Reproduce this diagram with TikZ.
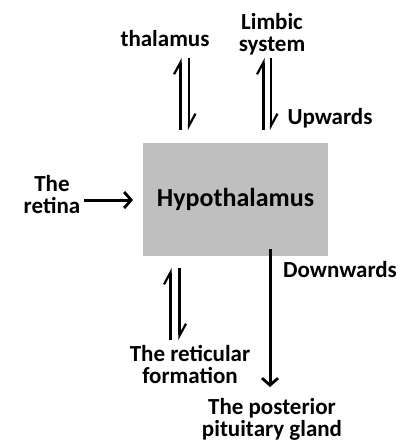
\documentclass[tikz,border=0pt]{standalone}
\usepackage{fontspec}
\setmainfont{Carlito}
\usetikzlibrary{arrows.meta, positioning}

\begin{document}
\begin{tikzpicture}[x=1pt, y=-1pt,
    every node/.style={font=\bfseries\fontsize{23}{22}\selectfont, align=center, inner sep=0pt},
    harp/.style={line width=2.2pt, -{Straight Barb[harpoon, length=12pt, width=13pt]}},
    flow/.style={line width=3pt, -{Straight Barb[length=7pt, width=16pt, line width=2.8pt]}}
]
\useasboundingbox (0,0) rectangle (415,441);
% Centre
\node[fill=gray!50, minimum width=185pt, minimum height=113pt,
      font=\bfseries\fontsize{26}{26}\selectfont] (hyp) at (235.5,199.5) {Hypothalamus};
% Labels
\node (thal) at (165,39) {thalamus};
\node (limb) at (272,34) {Limbic\\system};
\node (up) at (330,118) {Upwards};
\node (ret) at (52,195) {The\\retina};
\node (down) at (340,270) {Downwards};
\node (retic) at (190,364) {The reticular\\formation};
\node (post) at (272,419) {The posterior\\pituitary gland};
% Ends of the arrow pairs
\foreach \n/\x/\ya/\yb in {a/180.5/130/58, b/189/58/130, c/263.5/130/58, d/271/58/130, e/170.5/340/268, f/179.5/268/340} {
    \coordinate (\n0) at (\x,\ya); \coordinate (\n1) at (\x,\yb);
}
\foreach \n in {a,b,c,d,e,f} \draw[harp] (\n0) -- (\n1);
% Single arrows
\coordinate (retend) at (133,200);
\draw[flow] (ret.east |- retend) ++(4pt,0) -- (retend);
\coordinate (pg) at (270,387);
\draw[flow] (hyp.south -| pg) ++(0,7pt) -- (pg);
\end{tikzpicture}
\end{document}
